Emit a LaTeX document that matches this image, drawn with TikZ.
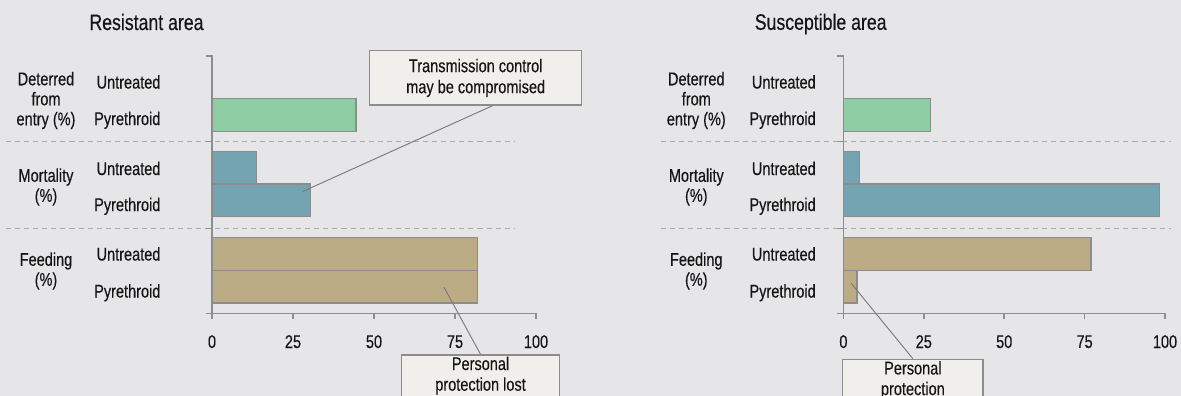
\documentclass[tikz,border=0pt]{standalone}
\usepackage{fontspec}
\setmainfont{Liberation Sans}[FakeStretch=0.79, FakeBold=0.3]
\definecolor{bg}{HTML}{E6E6E8}
\definecolor{ink}{HTML}{151515}
\definecolor{deterc}{HTML}{8DCEA4}
\definecolor{mortc}{HTML}{74A3B2}
\definecolor{feedc}{HTML}{BBAC86}
\definecolor{barline}{HTML}{8C8C8C}
\definecolor{axisgray}{HTML}{8E8E8E}
\definecolor{dashgray}{HTML}{ABABAB}
\definecolor{boxfill}{HTML}{F1EFEB}
\definecolor{leadergray}{HTML}{7A7A7A}

% Axes, separators, tick labels and row/group labels of one panel
% #1 zero of the value axis, #2 length of one unit, #3 right edge of row labels,
% #4 centre of group labels, #5/#6 extent of separators, #7 name prefix
\newcommand\drawpanel[7]{%
  \draw[sep] (#5,141.3) -- (#6,141.3);
  \draw[sep] (#5,228.3) -- (#6,228.3);
  \draw[axisline] ({#1-6.5},55.7) -- (#1,55.7) -- (#1,318.5);
  \draw[axisline] ({#1-6.5},141.3) -- (#1,141.3);
  \draw[axisline] ({#1-6.5},228.3) -- (#1,228.3);
  \draw[axisline] ({#1-6.5},313.3) -- ({#1+100*#2},313.3);
  \foreach \v in {0,25,50,75,100} {
    \draw[axisline] ({#1+\v*#2},313.3) -- ({#1+\v*#2},318.5);
    \node (#7tick\v) at ({#1+\v*#2},341.7) {\v};
  }
  \node[rowlbl] (#7du) at (#3,85) {Untreated};
  \node[rowlbl] (#7dp) at (#3,121.5) {Pyrethroid};
  \node[rowlbl] (#7mu) at (#3,171.5) {Untreated};
  \node[rowlbl] (#7mp) at (#3,207.5) {Pyrethroid};
  \node[rowlbl] (#7fu) at (#3,257) {Untreated};
  \node[rowlbl] (#7fp) at (#3,294) {Pyrethroid};
  \node[grplbl] (#7dg) at (#4,100.5) {Deterred\\from\\entry (\%)};
  \node[grplbl] (#7mg) at (#4,187) {Mortality\\(\%)};
  \node[grplbl] (#7fg) at (#4,271) {Feeding\\(\%)};
}

\begin{document}
\begin{tikzpicture}[x=0.75pt,y=-0.75pt,
  every node/.style={font=\fontsize{13.8}{15}\selectfont, text=ink, inner sep=0pt},
  ttl/.style={font=\fontsize{16.8}{18}\selectfont},
  rowlbl/.style={anchor=mid east},
  grplbl/.style={align=center},
  bar/.style={draw=barline, line width=1pt},
  axisline/.style={draw=axisgray, line width=1.2pt},
  sep/.style={draw=dashgray, line width=0.8pt, dash pattern=on 3.8pt off 3pt},
  callout/.style={draw=barline, fill=boxfill, line width=1pt},
  leader/.style={draw=leadergray, line width=0.7pt}]
\useasboundingbox (0,0) rectangle (1181,396);
\clip (0,0) rectangle (1181,396);
\fill[bg] (0,0) rectangle (1181,396);

% ---------- Resistant area ----------
\node[ttl] (rtitle) at (146.5,22) {Resistant area};
\drawpanel{212}{3.24}{160.7}{46}{6}{515}{r}
\draw[bar, fill=deterc] (212,98.7) rectangle ({212+3.24*44.4},131.3);
\draw[bar, fill=mortc] (212,151.7) rectangle ({212+3.24*13.7},184);
\draw[bar, fill=mortc] (212,184) rectangle ({212+3.24*30.5},216.7);
\draw[bar, fill=feedc] (212,237.7) rectangle ({212+3.24*82},270.3);
\draw[bar, fill=feedc] (212,270.3) rectangle ({212+3.24*82},303);
\coordinate (rmortpt) at (302.3,191.7);
\coordinate (rfeedpt) at (444,287.3);

\node[callout, minimum width=159pt, minimum height=40.7pt, align=center,
  font=\fontsize{13.8}{15.75}\selectfont] (tcall) at (475.7,77.9)
  {Transmission control\\may be compromised};
\draw[leader] ([xshift=12.6pt]tcall.south) -- (rmortpt);

\node[callout, anchor=north west, minimum width=118.3pt, minimum height=45pt]
  (pcall) at (401,354.3) {};
\node[align=center, anchor=north, font=\fontsize{13.8}{15.5}\selectfont]
  (pcalltext) at ([yshift=-1.6pt]pcall.north) {Personal\\protection lost};
\draw[leader] (pcall.north) -- (rfeedpt);

% ---------- Susceptible area ----------
\node[ttl] (stitle) at (820.7,24) {Susceptible area};
\drawpanel{843.4}{3.216}{816}{696.3}{661}{1171}{s}
\draw[bar, fill=deterc] (843.4,98.7) rectangle ({843.4+3.216*27.1},131.3);
\draw[bar, fill=mortc] (843.4,151.7) rectangle ({843.4+3.216*5.1},184);
\draw[bar, fill=mortc] (843.4,184) rectangle ({843.4+3.216*98.3},216.7);
\draw[bar, fill=feedc] (843.4,237.7) rectangle ({843.4+3.216*77},270.3);
\draw[bar, fill=feedc] (843.4,270.3) rectangle ({843.4+3.216*4.2},303);
\coordinate (sfeedpt) at (851.2,283.3);

\node[callout, anchor=north west, minimum width=105.3pt, minimum height=45pt]
  (scall) at (842,358.7) {};
\node[align=center, anchor=north, font=\fontsize{13.8}{15.5}\selectfont]
  (scalltext) at ([yshift=-1.6pt]scall.north) {Personal\\protection};
\draw[leader] (scall.north) -- (sfeedpt);
\end{tikzpicture}
\end{document}
